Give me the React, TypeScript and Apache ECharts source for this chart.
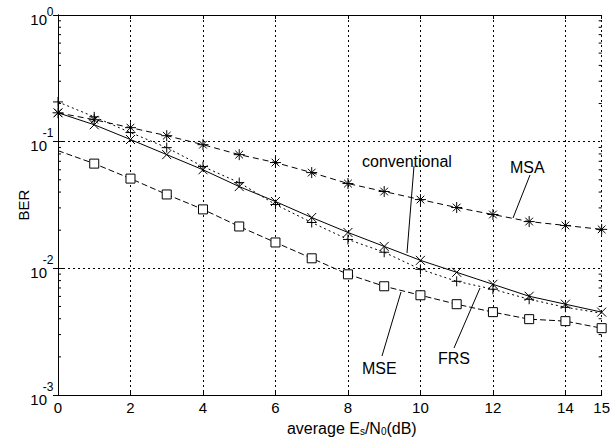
import React, { useEffect, useRef } from "react";
import * as echarts from "echarts";

const xs = [0, 1, 2, 3, 4, 5, 6, 7, 8, 9, 10, 11, 12, 13, 14, 15];
const conventional = [0.169, 0.136, 0.104, 0.079, 0.06, 0.0442, 0.0337, 0.0252, 0.0192, 0.0149, 0.01156, 0.0093, 0.00748, 0.00602, 0.00521, 0.00451];
const frs = [0.206, 0.157, 0.118, 0.0897, 0.0636, 0.0475, 0.0319, 0.023, 0.0169, 0.0134, 0.00982, 0.0079, 0.00684, 0.0057, 0.00493, 0.00442];
const msa = [0.169, 0.149, 0.129, 0.1115, 0.0947, 0.079, 0.0684, 0.057, 0.0467, 0.0404, 0.0349, 0.0302, 0.0266, 0.0234, 0.0218, 0.0203];
const mse = [0.0849, 0.0671, 0.0511, 0.0383, 0.0292, 0.0214, 0.016, 0.012, 0.00897, 0.00722, 0.00613, 0.00521, 0.00451, 0.00397, 0.00383, 0.00337];
const yTickValues = [0.001, 0.01, 0.1, 1];
const minorTickValues = [2, 3, 4, 5, 6, 7, 8, 9].flatMap((m) => [m * 1e-3, m * 1e-2, m * 1e-1]);
const yLabel = "BER";

const FONT = "'Liberation Sans', Arial, sans-serif";
const SYM_X = "path://M0,0L10,10M10,0L0,10";
const SYM_PLUS = "path://M5,0L5,10M0,5L10,5";
const SYM_STAR = "path://M5,0L5,10M0,5L10,5M1.5,1.5L8.5,8.5M8.5,1.5L1.5,8.5";

const strokeSym = { color: "transparent", borderColor: "#000", borderWidth: 1 };

export default function App() {
  const ref = useRef<HTMLDivElement>(null);
  useEffect(() => {
    document.body.style.margin = "0";
    const chart = echarts.init(ref.current!, null, { renderer: "svg" });
    const pairs = (arr: number[]) => xs.map((x, i) => [x, arr[i]]);
    const gridLine = { show: true, lineStyle: { color: "#000", type: [2, 3], width: 1 } };
    const option: any = {
      animation: false,
      backgroundColor: "#fff",
      textStyle: { fontFamily: FONT },
      grid: { left: 58, right: 7.5, top: 15, bottom: 45 },
      xAxis: [
        {
          type: "value",
          min: 0,
          max: 15,
          interval: 2,
          position: "bottom",
          axisLine: { show: true, lineStyle: { color: "#000", width: 1 } },
          axisTick: { show: true, inside: true, length: 4, lineStyle: { color: "#000" } },
          axisLabel: { color: "#000", fontSize: 15, margin: 5, fontFamily: FONT },
          splitLine: gridLine,
          name: `{n|average E}{s|s}{n|/N}{s|0}{n|(dB)}`,
          nameLocation: "middle",
          nameGap: 25,
          nameTextStyle: {
            color: "#000",
            fontSize: 16,
            fontFamily: FONT,
            padding: [0, 0, 0, 44],
            rich: {
              n: { fontSize: 16, color: "#000", fontFamily: FONT, verticalAlign: "bottom" },
              s: { fontSize: 10, color: "#000", fontFamily: FONT, verticalAlign: "bottom" },
            },
          },
        },
        {
          type: "value",
          min: 0,
          max: 15,
          interval: 2,
          position: "top",
          axisLine: { show: true, lineStyle: { color: "#000", width: 1 } },
          axisTick: { show: true, inside: true, length: 4, lineStyle: { color: "#000" } },
          axisLabel: { show: false },
          splitLine: { show: false },
        },
      ],
      yAxis: [
        {
          type: "log",
          logBase: 10,
          min: 0.001,
          max: 1,
          position: "left",
          axisLine: { show: true, lineStyle: { color: "#000", width: 1 } },
          axisTick: { show: true, inside: true, length: 5, lineStyle: { color: "#000" } },
          axisLabel: { show: false },
          splitLine: gridLine,
          name: yLabel,
          nameLocation: "middle",
          nameGap: 27,
          nameRotate: 90,
          nameTextStyle: { color: "#000", fontSize: 15, fontFamily: FONT },
        },
        {
          type: "log",
          logBase: 10,
          min: 0.001,
          max: 1,
          position: "right",
          axisLine: { show: true, lineStyle: { color: "#000", width: 1 } },
          axisTick: { show: true, inside: true, length: 5, lineStyle: { color: "#000" } },
          axisLabel: { show: false },
          splitLine: { show: false },
        },
      ],
      series: [
        {
          name: "minor ticks",
          type: "custom",
          silent: true,
          clip: false,
          data: minorTickValues.map((v) => [0, v]),
          renderItem: (params: any, api: any) => {
            const v = api.value(1);
            const l = api.coord([0, v]);
            const r = api.coord([15, v]);
            const style = { stroke: "#000", lineWidth: 1 };
            return {
              type: "group",
              children: [
                { type: "line", shape: { x1: l[0], y1: l[1], x2: l[0] + 3, y2: l[1] }, style },
                { type: "line", shape: { x1: r[0], y1: r[1], x2: r[0] - 3, y2: r[1] }, style },
              ],
            };
          },
          z: 1,
        },
        {
          name: "y labels",
          type: "custom",
          silent: true,
          clip: false,
          data: yTickValues.map((v) => [0, v]),
          renderItem: (params: any, api: any) => {
            const v = api.value(1);
            const p = api.coord([0, v]);
            const exp = Math.round(Math.log10(v));
            return {
              type: "group",
              children: [
                {
                  type: "text",
                  x: p[0] - 11,
                  y: p[1] + 4,
                  style: { text: "10", font: `15px ${FONT}`, fill: "#000", align: "right", verticalAlign: "middle" },
                },
                {
                  type: "text",
                  x: p[0] - 4.5,
                  y: Math.max(p[1] - 8.5, 12),
                  style: { text: String(exp), font: `12px ${FONT}`, fill: "#000", align: "right", verticalAlign: "middle" },
                },
              ],
            };
          },
          z: 5,
        },
        {
          name: "MSA",
          type: "line",
          data: pairs(msa),
          symbol: SYM_STAR,
          symbolSize: 11,
          itemStyle: strokeSym,
          lineStyle: { color: "#000", width: 1, type: [6, 4] },
          z: 3,
        },
        {
          name: "conventional",
          type: "line",
          data: pairs(conventional),
          symbol: SYM_X,
          symbolSize: 9,
          itemStyle: strokeSym,
          lineStyle: { color: "#000", width: 1, type: "solid" },
          z: 3,
        },
        {
          name: "FRS",
          type: "line",
          data: pairs(frs).map((p, i) => (i === xs.length - 1 ? { value: p, symbol: "none" } : p)),
          symbol: SYM_PLUS,
          symbolSize: 10,
          itemStyle: strokeSym,
          lineStyle: { color: "#000", width: 1, type: [2, 3] },
          z: 3,
        },
        {
          name: "MSE",
          type: "line",
          data: pairs(mse).map((p, i) => (i === 0 ? { value: p, symbol: "none" } : p)),
          symbol: "rect",
          symbolSize: 9,
          itemStyle: { color: "#fff", borderColor: "#000", borderWidth: 1 },
          lineStyle: { color: "#000", width: 1, type: [6, 3] },
          z: 3,
        },
      ],
      graphic: [
        { type: "text", left: 362, top: 153, style: { text: "conventional", font: `16px ${FONT}`, fill: "#000" } },
        { type: "line", shape: { x1: 414, y1: 166, x2: 407, y2: 253 }, style: { stroke: "#000", lineWidth: 1 } },
        { type: "text", left: 510, top: 159, style: { text: "MSA", font: `16px ${FONT}`, fill: "#000" } },
        { type: "line", shape: { x1: 530, y1: 175, x2: 513, y2: 218 }, style: { stroke: "#000", lineWidth: 1 } },
        { type: "text", left: 362, top: 360, style: { text: "MSE", font: `16px ${FONT}`, fill: "#000" } },
        { type: "line", shape: { x1: 382, y1: 356, x2: 401, y2: 292 }, style: { stroke: "#000", lineWidth: 1 } },
        { type: "text", left: 438, top: 350, style: { text: "FRS", font: `16px ${FONT}`, fill: "#000" } },
        { type: "line", shape: { x1: 454, y1: 348, x2: 480, y2: 288 }, style: { stroke: "#000", lineWidth: 1 } },
      ],
    };
    chart.setOption(option);
    return () => chart.dispose();
  }, []);
  return <div ref={ref} style={{ position: "fixed", left: 0, top: 0, width: 613, height: 441 }} />;
}
